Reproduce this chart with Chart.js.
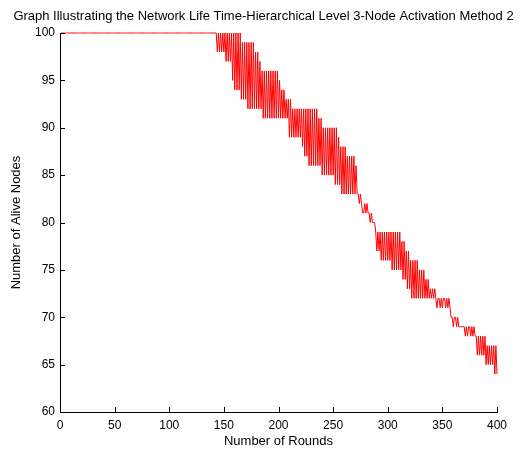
<!DOCTYPE html>
<html>
<head>
<meta charset="utf-8">
<script src="https://cdn.jsdelivr.net/npm/chart.js@4.4.0/dist/chart.umd.min.js"></script>
<style>
html,body{margin:0;padding:0;background:#ffffff;}
#wrap{width:527px;height:456px;}
</style>
</head>
<body>
<div id="wrap"><canvas id="c" width="527" height="456"></canvas></div>
<script>
const titleText = "Graph Illustrating the Network Life Time-Hierarchical Level 3-Node Activation Method 2";
const xTitle = "Number of Rounds";
const yTitle = "Number of Alive Nodes";
const xTicks = [0, 50, 100, 150, 200, 250, 300, 350, 400];
const yTicks = [60, 65, 70, 75, 80, 85, 90, 95, 100];

// rounds 1-143: all nodes alive
const aliveStable = [
100,100,100,100,100,100,100,100,100,100,100,100,100,100,100,100,100,100,100,100,
100,100,100,100,100,100,100,100,100,100,100,100,100,100,100,100,100,100,100,100,
100,100,100,100,100,100,100,100,100,100,100,100,100,100,100,100,100,100,100,100,
100,100,100,100,100,100,100,100,100,100,100,100,100,100,100,100,100,100,100,100,
100,100,100,100,100,100,100,100,100,100,100,100,100,100,100,100,100,100,100,100,
100,100,100,100,100,100,100,100,100,100,100,100,100,100,100,100,100,100,100,100,
100,100,100,100,100,100,100,100,100,100,100,100,100,100,100,100,100,100,100,100,
100,100,100
];

// rounds 144-288
const aliveDeclineA = [
98,100,98,100,98,100,98,100,
97,100,97,100,97,100,
95,100,
94,100,94,100,94,100,
93,99,93,99,93,
99,92,99,92,99,92,99,92,
98,92,98,92,
97,92,
96,91,96,91,96,91,96,91,96,91,96,91,96,91,96,
91,95,
91,94,91,94,
91,93,91,
93,89,93,
89,92,89,92,89,92,89,92,89,92,
88,92,
87,92,87,92,
86,92,86,92,86,92,86,92,86,
91,86,91,
85,
90,85,90,85,90,85,90,85,90,85,90,
84,90,84,
89,84,
88,83,88,83,88,83,
87,83,87,83,87,83,87,
83,86,
83,83,82,83,
82,81,81,82,81,82,81,
81,
80,81,80,80,
80
];

// rounds 289-400
const aliveDeclineB = [
79,77,79,77,79,
76,79,76,79,76,79,76,79,76,
79,75,79,75,79,75,79,75,79,75,
78,74,78,74,
77,73,77,73,
76,72,76,72,76,72,76,72,
75,72,75,72,75,72,
74,72,74,72,
73,72,73,72,73,72,
71,72,72,71,72,71,72,72,71,72,71,72,
71,70,
70,69,70,70,69,70,69,
69,69,69,69,69,
68,69,68,69,69,68,69,68,69,68,
68,66,68,66,68,66,68,66,68,
65,67,65,67,65,67,65,67,64,67,64
];

const aliveNodes = aliveStable.concat(aliveDeclineA, aliveDeclineB);
const rounds = aliveNodes.map((_, i) => i + 1);
const points = rounds.map((r, i) => ({ x: r, y: aliveNodes[i] }));

const FONT = "'Liberation Sans', Arial, Helvetica, sans-serif";

const inwardTicks = {
  id: 'inwardTicks',
  afterDatasetsDraw(chart) {
    const ctx = chart.ctx;
    const xs = chart.scales.x, ys = chart.scales.y;
    const a = chart.chartArea;
    ctx.save();
    ctx.strokeStyle = '#000000';
    ctx.lineWidth = 1;
    ctx.beginPath();
    xTicks.forEach(v => {
      const px = Math.round(xs.getPixelForValue(v)) + 0.5;
      ctx.moveTo(px, Math.round(a.bottom));
      ctx.lineTo(px, Math.round(a.bottom) - 5);
    });
    yTicks.forEach(v => {
      const py = Math.round(ys.getPixelForValue(v)) + 0.5;
      ctx.moveTo(Math.round(a.left), py);
      ctx.lineTo(Math.round(a.left) + 5, py);
    });
    ctx.stroke();
    ctx.restore();
  }
};

new Chart(document.getElementById('c'), {
  type: 'line',
  data: {
    datasets: [{
      data: points,
      borderColor: '#ff0000',
      borderWidth: 1,
      pointRadius: 0,
      pointHoverRadius: 0,
      tension: 0,
      fill: false,
      clip: 3
    }]
  },
  options: {
    responsive: false,
    animation: false,
    devicePixelRatio: 1,
    layout: { padding: 0 },
    plugins: {
      legend: { display: false },
      tooltip: { enabled: false },
      title: {
        display: true,
        text: titleText,
        color: '#000000',
        font: { family: FONT, size: 13, weight: 'normal', lineHeight: 1.2 },
        padding: { top: 9, bottom: 8.4 }
      }
    },
    scales: {
      x: {
        type: 'linear',
        min: 0,
        max: 400,
        afterBuildTicks: s => { s.ticks = xTicks.map(v => ({ value: v })); },
        afterFit: s => { s.height = 44; s.paddingRight = 30; },
        ticks: {
          color: '#000000',
          font: { family: FONT, size: 12 },
          padding: 6,
          maxRotation: 0,
          autoSkip: false
        },
        grid: { display: false, drawTicks: false },
        border: { display: true, color: '#000000', width: 1 },
        title: {
          display: true,
          text: xTitle,
          color: '#000000',
          font: { family: FONT, size: 13, lineHeight: 1.2 },
          padding: { top: 0, bottom: 7 }
        }
      },
      y: {
        type: 'linear',
        min: 60,
        max: 100,
        afterBuildTicks: s => { s.ticks = yTicks.map(v => ({ value: v })); },
        afterFit: s => { s.width = 60; },
        ticks: {
          color: '#000000',
          font: { family: FONT, size: 12 },
          padding: 5,
          autoSkip: false
        },
        grid: { display: false, drawTicks: false },
        border: { display: true, color: '#000000', width: 1 },
        title: {
          display: true,
          text: yTitle,
          color: '#000000',
          font: { family: FONT, size: 13, lineHeight: 1.2 },
          padding: { top: 9, bottom: 0 }
        }
      }
    }
  },
  plugins: [inwardTicks]
});
</script>
</body>
</html>
